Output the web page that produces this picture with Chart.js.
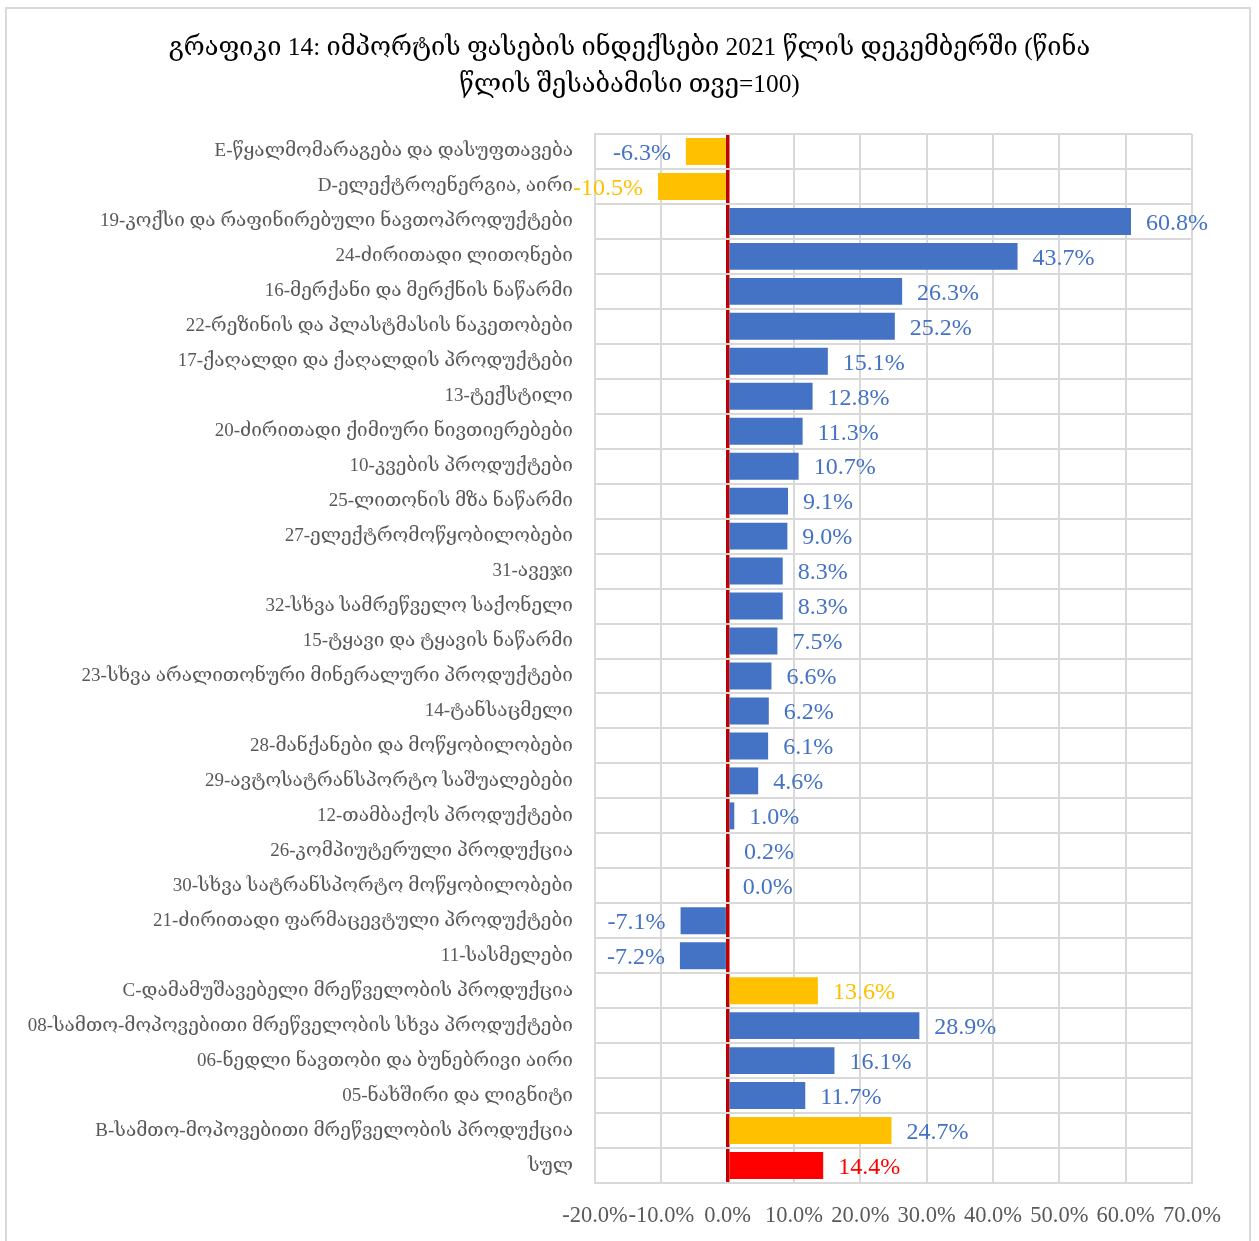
<!DOCTYPE html>
<html>
<head>
<meta charset="utf-8">
<script src="https://cdn.jsdelivr.net/npm/chart.js@4.4.1/dist/chart.umd.min.js"></script>
<style>
  html, body { margin: 0; padding: 0; background: #fff; }
  #wrap { position: relative; width: 1259px; height: 1241px; }
  #frame { position: absolute; left: 5px; top: 7px; width: 1246px; height: 1240px; border: 2px solid #D9D9D9; box-sizing: border-box; pointer-events: none; }
  canvas { position: absolute; left: 0; top: 0; }
</style>
</head>
<body>
<div id="wrap">
  <canvas id="importChart" width="1259" height="1241"></canvas>
  <div id="frame"></div>
</div>
<script>
const categories = [
  'E-წყალმომარაგება და დასუფთავება',
  'D-ელექტროენერგია, აირი',
  '19-კოქსი და რაფინირებული ნავთოპროდუქტები',
  '24-ძირითადი ლითონები',
  '16-მერქანი და მერქნის ნაწარმი',
  '22-რეზინის და პლასტმასის ნაკეთობები',
  '17-ქაღალდი და ქაღალდის პროდუქტები',
  '13-ტექსტილი',
  '20-ძირითადი ქიმიური ნივთიერებები',
  '10-კვების პროდუქტები',
  '25-ლითონის მზა ნაწარმი',
  '27-ელექტრომოწყობილობები',
  '31-ავეჯი',
  '32-სხვა სამრეწველო საქონელი',
  '15-ტყავი და ტყავის ნაწარმი',
  '23-სხვა არალითონური მინერალური პროდუქტები',
  '14-ტანსაცმელი',
  '28-მანქანები და მოწყობილობები',
  '29-ავტოსატრანსპორტო საშუალებები',
  '12-თამბაქოს პროდუქტები',
  '26-კომპიუტერული პროდუქცია',
  '30-სხვა სატრანსპორტო მოწყობილობები',
  '21-ძირითადი ფარმაცევტული პროდუქტები',
  '11-სასმელები',
  'C-დამამუშავებელი მრეწველობის პროდუქცია',
  '08-სამთო-მოპოვებითი მრეწველობის სხვა პროდუქტები',
  '06-ნედლი ნავთობი და ბუნებრივი აირი',
  '05-ნახშირი და ლიგნიტი',
  'B-სამთო-მოპოვებითი მრეწველობის პროდუქცია',
  'სულ'
];

// % change vs same month of previous year
const values = [
  -6.3, -10.5, 60.8, 43.7, 26.3, 25.2, 15.1, 12.8, 11.3, 10.7,
  9.1, 9.0, 8.3, 8.3, 7.5, 6.6, 6.2, 6.1, 4.6, 1.0,
  0.2, 0.0, -7.1, -7.2, 13.6, 28.9, 16.1, 11.7, 24.7, 14.4
];

// bar group: s = section (yellow), d = division (blue), t = total (red)
const groups = [
  's', 's', 'd', 'd', 'd', 'd', 'd', 'd', 'd', 'd',
  'd', 'd', 'd', 'd', 'd', 'd', 'd', 'd', 'd', 'd',
  'd', 'd', 'd', 'd', 's', 'd', 'd', 'd', 's', 't'
];
// value-label group (differs from bars for E and B)
const labelGroups = [
  'd', 's', 'd', 'd', 'd', 'd', 'd', 'd', 'd', 'd',
  'd', 'd', 'd', 'd', 'd', 'd', 'd', 'd', 'd', 'd',
  'd', 'd', 'd', 'd', 's', 'd', 'd', 'd', 'd', 't'
];

const xTicks = [-20, -10, 0, 10, 20, 30, 40, 50, 60, 70];

const palette = { s: '#FFC000', d: '#4472C4', t: '#FF0000' };
const serif = '"Liberation Serif", "DejaVu Serif", serif';

// value labels at the bar ends
const barLabels = {
  id: 'barLabels',
  afterDatasetsDraw(chart) {
    const c = chart.ctx;
    const meta = chart.getDatasetMeta(0);
    c.save();
    c.font = '24px ' + serif;
    c.textBaseline = 'middle';
    meta.data.forEach((bar, i) => {
      const v = values[i];
      c.fillStyle = palette[labelGroups[i]];
      if (v < 0) {
        c.textAlign = 'right';
        c.fillText(v.toFixed(1) + '%', bar.x - 15, bar.y + 2);
      } else {
        c.textAlign = 'left';
        c.fillText(v.toFixed(1) + '%', bar.x + 15, bar.y + 2);
      }
    });
    c.restore();
  }
};

const ctx = document.getElementById('importChart').getContext('2d');

new Chart(ctx, {
  type: 'bar',
  data: {
    labels: categories,
    datasets: [{
      data: values,
      backgroundColor: groups.map(g => palette[g]),
      barPercentage: 0.77,
      categoryPercentage: 1
    }]
  },
  options: {
    indexAxis: 'y',
    responsive: false,
    animation: false,
    layout: { padding: 0 },
    plugins: {
      legend: { display: false },
      tooltip: { enabled: false },
      title: {
        display: true,
        text: [
          'გრაფიკი 14: იმპორტის ფასების ინდექსები 2021 წლის დეკემბერში (წინა',
          'წლის შესაბამისი თვე=100)'
        ],
        color: '#000',
        font: { family: serif, size: 25.4, weight: 'normal', lineHeight: '37px' },
        padding: { top: 30, bottom: 30 }
      }
    },
    scales: {
      x: {
        min: -20,
        max: 70,
        afterFit: s => { s.height = 58; },
        afterBuildTicks: s => { s.ticks = xTicks.map(v => ({ value: v })); },
        ticks: {
          autoSkip: false,
          maxRotation: 0,
          padding: 20,
          color: '#595959',
          font: { family: serif, size: 22.5 },
          callback: v => v.toFixed(1) + '%'
        },
        grid: {
          drawTicks: false,
          color: c => (c.tick && c.tick.value === 0 ? '#C00000' : '#D9D9D9'),
          lineWidth: c => (c.tick && c.tick.value === 0 ? 3.5 : 2)
        },
        border: { color: '#D9D9D9', width: 2 }
      },
      y: {
        afterFit: s => { s.width = 595; },
        ticks: {
          autoSkip: false,
          padding: 22,
          color: '#595959',
          font: { family: serif, size: 19 }
        },
        grid: { drawTicks: false, color: '#D9D9D9', lineWidth: 2 },
        border: { color: '#D9D9D9', width: 2 }
      },
      // empty right-hand spacer so the title stays centred on the page
      spacer: {
        type: 'linear',
        position: 'right',
        afterFit: s => { s.width = 67; },
        ticks: { display: false },
        grid: { display: false, drawTicks: false },
        border: { display: false }
      }
    }
  },
  plugins: [barLabels]
});
</script>
</body>
</html>
